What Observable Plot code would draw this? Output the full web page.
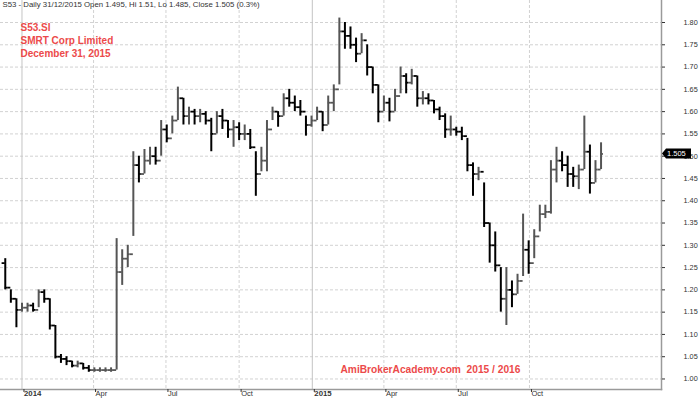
<!DOCTYPE html>
<html><head><meta charset="utf-8">
<script src="https://cdn.jsdelivr.net/npm/d3@7"></script>
<script src="https://cdn.jsdelivr.net/npm/@observablehq/plot@0.6"></script>
<style>body{margin:0;background:#fff}#chart{width:700px;height:399px;overflow:hidden}</style>
</head><body><div id="chart"></div><script>
// Weekly bars (week starting Monday 2013-12-09 ... 2015-12-28)
const firstWeek = "2013-12-09";
const firstOpen = 1.26;
const highs = [1.27,1.20,1.18,1.17,1.17,1.17,1.20,1.20,1.18,1.12,1.055,1.05,1.04,1.04,1.035,1.03,1.025,1.025,1.025,1.025,
1.315,1.29,1.30,1.51,1.50,1.515,1.52,1.52,1.58,1.57,
1.59,1.655,1.63,1.61,1.605,1.605,1.60,1.585,1.60,1.605,
1.58,1.58,1.575,1.57,1.56,1.51,1.52,1.58,1.61,1.60,
1.64,1.65,1.635,1.625,1.59,1.59,1.61,1.60,1.635,1.66,
1.81,1.80,1.79,1.765,1.775,1.75,1.70,1.66,1.635,1.63,
1.65,1.70,1.685,1.695,1.68,1.645,1.64,1.625,1.61,1.595,
1.59,1.565,1.565,1.54,1.485,1.475,1.44,1.35,1.33,1.25,
1.25,1.22,1.235,1.37,1.31,1.335,1.39,1.39,1.49,1.52,
1.51,1.50,1.475,1.48,1.59,1.525,1.49,1.53];
const lows = [1.20,1.17,1.115,1.15,1.15,1.15,1.16,1.17,1.11,1.045,1.035,1.03,1.025,1.025,1.02,1.015,1.015,1.015,1.015,1.015,
1.02,1.21,1.25,1.32,1.44,1.46,1.48,1.48,1.50,1.53,
1.55,1.58,1.57,1.57,1.57,1.575,1.57,1.51,1.55,1.56,
1.54,1.52,1.535,1.535,1.515,1.41,1.465,1.465,1.58,1.565,
1.59,1.61,1.60,1.59,1.545,1.565,1.58,1.555,1.57,1.60,
1.66,1.74,1.74,1.71,1.73,1.68,1.64,1.575,1.60,1.577,
1.60,1.64,1.64,1.66,1.61,1.615,1.615,1.595,1.58,1.54,
1.545,1.545,1.535,1.465,1.41,1.445,1.34,1.26,1.24,1.15,
1.12,1.16,1.19,1.23,1.235,1.27,1.33,1.36,1.37,1.44,
1.465,1.43,1.43,1.425,1.47,1.415,1.44,1.47];
const closes = [1.205,1.18,1.155,1.16,1.165,1.155,1.195,1.18,1.12,1.05,1.045,1.04,1.03,1.035,1.025,1.02,1.02,1.02,1.02,1.02,
1.24,1.27,1.28,1.48,1.46,1.49,1.50,1.49,1.56,1.54,
1.58,1.63,1.59,1.60,1.59,1.595,1.58,1.55,1.59,1.58,
1.56,1.565,1.55,1.55,1.52,1.46,1.49,1.56,1.60,1.59,
1.63,1.62,1.61,1.60,1.57,1.58,1.60,1.57,1.62,1.65,
1.78,1.77,1.75,1.73,1.76,1.70,1.66,1.60,1.62,1.60,
1.635,1.68,1.665,1.68,1.63,1.63,1.625,1.605,1.59,1.56,
1.56,1.555,1.545,1.48,1.46,1.465,1.35,1.30,1.255,1.18,
1.20,1.19,1.22,1.29,1.26,1.32,1.37,1.375,1.47,1.49,
1.48,1.46,1.455,1.47,1.51,1.44,1.47,1.505];

const yTicks = [1.00,1.05,1.10,1.15,1.20,1.25,1.30,1.35,1.40,1.45,1.50,1.55,1.60,1.65,1.70,1.75,1.80];
const yearTicks = ["2014-01-01","2015-01-01"];
const quarterTicks = ["2014-04-01","2014-07-01","2014-10-01","2015-04-01","2015-07-01","2015-10-01"];
const monthNames = {3:"Apr",6:"Jul",9:"Oct"};
const headerText = "S53 - Daily 31/12/2015 Open 1.495, Hi 1.51, Lo 1.485, Close 1.505 (0.3%)";
const titleLines = ["S53.SI","SMRT Corp Limited","December 31, 2015"];
const watermark = "AmiBrokerAcademy.com\u00a0 2015 / 2016";
const lastClose = 1.505;

const weeks = d3.utcMonday.range(new Date(firstWeek), new Date("2016-01-01"));
const data = weeks.map((w, i) => ({
  date: d3.utcDay.offset(w, 2),
  open: i ? closes[i - 1] : firstOpen,
  high: highs[i], low: lows[i], close: closes[i]
}));
const barColor = d => d.close >= d.open ? "#555" : "#000";
const font = "'Liberation Sans', Arial, sans-serif";
const red = "#ec4a4a";
const tickDays = 3.5;

const plot = Plot.plot({
  width: 700, height: 399,
  marginTop: 0, marginLeft: 0, marginRight: 39, marginBottom: 10,
  style: {fontFamily: font, background: "#fff", overflow: "visible"},
  x: {type: "utc", domain: [new Date("2013-12-05"), new Date("2016-03-15")]},
  y: {domain: [0.9764, 1.8494]},
  marks: [
    Plot.ruleY(yTicks, {stroke: "#d2d2d2", strokeDasharray: "3,2"}),
    Plot.ruleX(quarterTicks.map(d => new Date(d)), {stroke: "#d2d2d2", strokeDasharray: "3,2"}),
    Plot.ruleX(yearTicks.map(d => new Date(d)), {stroke: "#c4c4c4"}),
    Plot.frame({anchor: "bottom", stroke: "#9a9a9a", strokeWidth: 1.5}),
    Plot.frame({anchor: "right", stroke: "#9a9a9a", strokeWidth: 1.5}),
    Plot.axisY(yTicks, {anchor: "right", tickSize: 3, tickPadding: 19, tickFormat: d3.format(".2f"),
      fontSize: 7.3, color: "#333", stroke: "#333"}),
    Plot.axisX(quarterTicks.map(d => new Date(d)), {anchor: "bottom", tickSize: 3, tickPadding: -2,
      textAnchor: "start", dx: 2, fontSize: 7.5, color: "#333",
      tickFormat: d => monthNames[d.getUTCMonth()]}),
    Plot.axisX(yearTicks.map(d => new Date(d)), {anchor: "bottom", tickSize: 3, tickPadding: -2,
      textAnchor: "start", dx: 2, fontSize: 7.8, fontWeight: "bold", color: "#333",
      tickFormat: d => String(d.getUTCFullYear())}),
    Plot.ruleX(data, {x: "date", y1: "low", y2: "high", stroke: barColor, strokeWidth: 2}),
    Plot.ruleY(data, {y: "open", x1: d => d3.utcDay.offset(d.date, -tickDays), x2: "date", stroke: barColor, strokeWidth: 1.8}),
    Plot.ruleY(data, {y: "close", x1: "date", x2: d => d3.utcDay.offset(d.date, tickDays), stroke: barColor, strokeWidth: 1.8}),
    Plot.text([headerText], {frameAnchor: "top-left", dx: 2, dy: 1, fontSize: 7.8, fill: "#333", textAnchor: "start", lineAnchor: "top"}),
    Plot.text([titleLines.join("\n")], {frameAnchor: "top-left", dx: 20, dy: 21, fontSize: 10, fontWeight: "bold",
      fill: red, textAnchor: "start", lineAnchor: "top", lineHeight: 1.3}),
    Plot.text([watermark], {frameAnchor: "bottom-left", dx: 340, dy: -17, fontSize: 10.2, fontWeight: "bold",
      fill: red, textAnchor: "start", lineAnchor: "bottom"})
  ]
});
document.getElementById("chart").appendChild(plot);

// last-price flag on the right axis
const svg = d3.select(plot);
const yPos = plot.scale("y").apply(lastClose);
const xr = plot.scale("x").range[1];
const g = svg.append("g");
g.append("path")
  .attr("d", `M${xr + 1},${yPos} L${xr + 5},${yPos - 5} H${xr + 30} V${yPos + 5} H${xr + 5} Z`)
  .attr("fill", "#000");
g.append("text").attr("x", xr + 6).attr("y", yPos).attr("dy", "0.35em")
  .attr("text-anchor", "start")
  .attr("fill", "#fff").attr("font-size", 7.5).attr("font-family", font).text(String(lastClose));
</script></body></html>
